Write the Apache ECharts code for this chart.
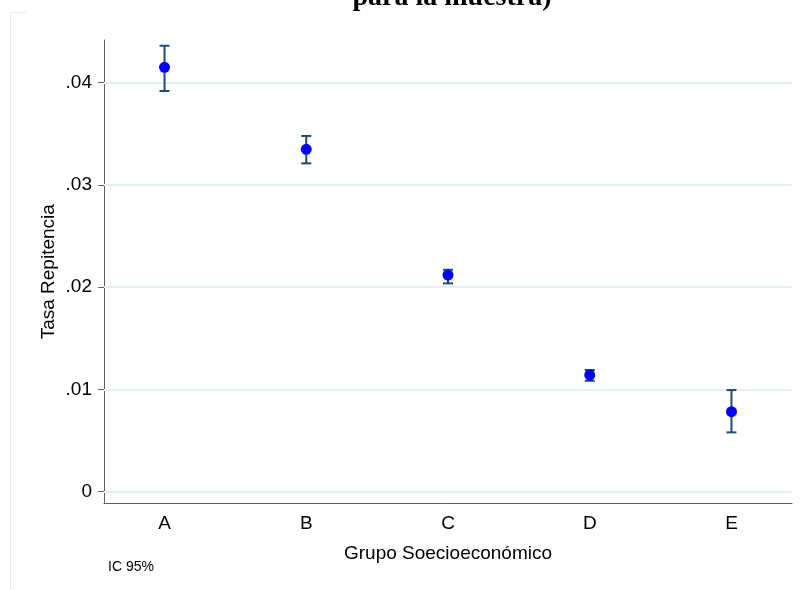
<!DOCTYPE html>
<html>
<head>
<meta charset="utf-8">
<script src="https://cdn.jsdelivr.net/npm/echarts@6/dist/echarts.min.js"></script>
<style>
html,body{margin:0;padding:0;background:#fff;}
#chart{width:801px;height:590px;}
</style>
</head>
<body>
<div id="chart"></div>
<script>
// Data
const categories = ['A', 'B', 'C', 'D', 'E'];
const categoryPos = [1, 2, 3, 4, 5];
const rate = [0.04151, 0.03348, 0.02118, 0.01140, 0.00781];
const ciLow = [0.03919, 0.03211, 0.02037, 0.01084, 0.00579];
const ciHigh = [0.04362, 0.03479, 0.02170, 0.01189, 0.00993];
const yTicks = [0, 0.01, 0.02, 0.03, 0.04];
const yTickLabels = ['0', '.01', '.02', '.03', '.04'];

const FONT = "'Liberation Sans', Arial, sans-serif";

const chart = echarts.init(document.getElementById('chart'), null, {renderer: 'canvas'});

const pointData = categoryPos.map((x, i) => [x, rate[i]]);
const ciData = categoryPos.map((x, i) => [x, ciLow[i], ciHigh[i]]);

chart.setOption({
  animation: false,
  backgroundColor: '#ffffff',
  grid: {left: 104, right: 9, top: 40, bottom: 86.5, containLabel: false},
  xAxis: {
    type: 'value',
    min: 0.573,
    max: 5.427,
    name: 'Grupo Soecioeconómico',
    nameLocation: 'middle',
    nameGap: 41,
    nameMoveOverlap: false,
    nameTextStyle: {fontFamily: FONT, fontSize: 19, color: '#000'},
    axisLine: {show: true, onZero: false, lineStyle: {color: '#5e5e5e', width: 1}},
    axisTick: {show: false},
    splitLine: {show: false},
    axisLabel: {
      customValues: categoryPos,
      formatter: v => categories[Math.round(v) - 1] || '',
      fontFamily: FONT, fontSize: 19, color: '#000', margin: 11
    }
  },
  yAxis: {
    type: 'value',
    min: -0.00117,
    max: 0.04418,
    name: 'Tasa Repitencia',
    nameLocation: 'middle',
    nameGap: 46,
    nameMoveOverlap: false,
    nameRotate: 90,
    nameTextStyle: {fontFamily: FONT, fontSize: 19, color: '#000'},
    axisLine: {show: true, lineStyle: {color: '#5e5e5e', width: 1}},
    axisTick: {show: true, customValues: yTicks, length: 6, lineStyle: {color: '#5e5e5e'}},
    splitLine: {show: false},
    axisLabel: {
      customValues: yTicks,
      formatter: v => {
        const i = yTicks.findIndex(t => Math.abs(t - v) < 1e-9);
        return i >= 0 ? yTickLabels[i] : '';
      },
      fontFamily: FONT, fontSize: 19, color: '#000', margin: 12
    }
  },
  graphic: [
    {
      type: 'polyline', silent: true,
      shape: {points: [[26, 12.5], [10.5, 12.5], [10.5, 590]]},
      style: {stroke: '#e3eaee', lineWidth: 1, fill: null}
    },
    {
      type: 'text', x: 452, y: -2,
      style: {
        text: 'para la muestra)',
        font: "bold 28px 'Liberation Serif', 'Times New Roman', serif",
        fill: '#000', textAlign: 'center', textVerticalAlign: 'middle'
      }
    },
    {
      type: 'text', x: 108, y: 567,
      style: {
        text: 'IC 95%', font: "14px 'Liberation Sans', Arial, sans-serif",
        fill: '#000', textAlign: 'left', textVerticalAlign: 'middle'
      }
    }
  ],
  series: [
    {
      type: 'line',
      data: [],
      silent: true,
      z: 0,
      markLine: {
        silent: true,
        symbol: 'none',
        label: {show: false},
        lineStyle: {color: '#e6eef1', width: 2, type: 'solid'},
        data: yTicks.map(t => ({yAxis: t}))
      }
    },
    {
      type: 'custom',
      z: 5,
      data: ciData,
      renderItem: function (params, api) {
        const x = api.value(0);
        const lo = api.coord([x, api.value(1)]);
        const hi = api.coord([x, api.value(2)]);
        const cap = 5;
        const st = {stroke: '#1f4a72', lineWidth: 2};
        return {
          type: 'group',
          children: [
            {type: 'line', shape: {x1: lo[0], y1: lo[1], x2: hi[0], y2: hi[1]}, style: st},
            {type: 'line', shape: {x1: lo[0] - cap, y1: lo[1], x2: lo[0] + cap, y2: lo[1]}, style: st},
            {type: 'line', shape: {x1: hi[0] - cap, y1: hi[1], x2: hi[0] + cap, y2: hi[1]}, style: st}
          ]
        };
      }
    },
    {
      type: 'scatter',
      z: 6,
      symbol: 'circle',
      symbolSize: 11,
      itemStyle: {color: '#0000ff', opacity: 1},
      data: pointData
    }
  ]
});
</script>
</body>
</html>
